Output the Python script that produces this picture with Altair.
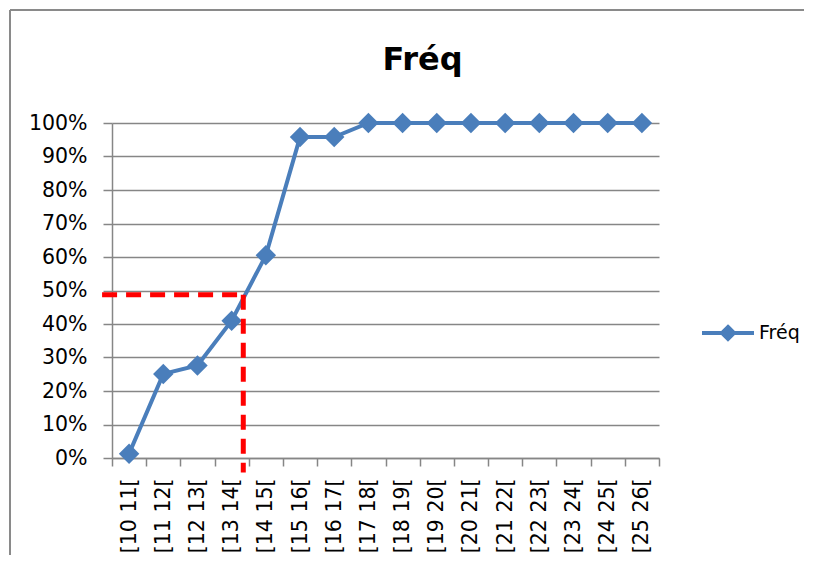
import altair as alt
import pandas as pd

# ---- data ----
classes = ["[10 11[", "[11 12[", "[12 13[", "[13 14[", "[14 15[", "[15 16[",
           "[16 17[", "[17 18[", "[18 19[", "[19 20[", "[20 21[", "[21 22[",
           "[22 23[", "[23 24[", "[24 25[", "[25 26["]
freq = [0.013, 0.251, 0.276, 0.41, 0.605, 0.958, 0.958, 1.0, 1.0, 1.0,
        1.0, 1.0, 1.0, 1.0, 1.0, 1.0]
series_name = "Fréq"
y_ticks = [0.0, 0.1, 0.2, 0.3, 0.4, 0.5, 0.6, 0.7, 0.8, 0.9, 1.0]

# median reading (in class units, classes span [10, 26])
class_range = [10, 26]
median_x = [13.84]
median_y = [0.487]
guide_x_start = [9.71]
guide_y_end = [-0.043]

df = pd.DataFrame({"classe": classes, "freq": freq,
                   "serie": [series_name] * len(classes)})
hdf = pd.DataFrame({"x": guide_x_start, "x2": median_x, "y": median_y})
vdf = pd.DataFrame({"x": median_x, "y": median_y, "y2": guide_y_end})

BLUE = "#4A7EBB"
RED = "#FF0000"
GRID = "#868686"
FONT = "DejaVu Sans"
LEGEND_PATH = "M-1,0L1,0M0,-0.23L0.23,0L0,0.23L-0.23,0Z"

yscale = alt.Scale(domain=[0, 1], nice=False)
yaxis = alt.Axis(title=None, values=y_ticks, format=".0%", tickSize=9,
                 labelPadding=16, grid=True, labelOverlap=False)
xscale = alt.Scale(type="band", paddingInner=0, paddingOuter=0)
xaxis = alt.Axis(title=None, labelAngle=-90, tickBand="extent",
                 labelOverlap=False, tickSize=8, labelPadding=12, grid=False)

color = alt.Color("serie:N", scale=alt.Scale(range=[BLUE]),
                  legend=alt.Legend(title=None, orient="none", legendX=588,
                                    legendY=182, symbolType=LEGEND_PATH,
                                    symbolSize=2704, symbolStrokeWidth=4,
                                    symbolFillColor=BLUE,
                                    symbolStrokeColor=BLUE,
                                    labelFont=FONT, labelFontSize=19,
                                    labelColor="black", labelOffset=3,
                                    padding=0))

line = alt.Chart(df).mark_line(strokeWidth=4).encode(
    x=alt.X("classe:N", sort=classes, scale=xscale, axis=xaxis),
    y=alt.Y("freq:Q", scale=yscale, axis=yaxis), color=color)
pts = alt.Chart(df).mark_point(shape="diamond", filled=True, size=420,
                               opacity=1).encode(
    x=alt.X("classe:N", sort=classes, scale=xscale, axis=xaxis),
    y=alt.Y("freq:Q", scale=yscale, axis=yaxis), color=color)

qx = alt.Scale(domain=class_range, nice=False, zero=False)
hrule = alt.Chart(hdf).mark_rule(color=RED, strokeWidth=5, strokeDash=[15, 9]).encode(
    x=alt.X("x:Q", scale=qx, axis=None), x2="x2:Q",
    y=alt.Y("y:Q", scale=yscale, axis=yaxis))
vrule = alt.Chart(vdf).mark_rule(color=RED, strokeWidth=5, strokeDash=[15, 9]).encode(
    x=alt.X("x:Q", scale=qx, axis=None),
    y=alt.Y("y:Q", scale=yscale, axis=yaxis), y2="y2:Q")

frame_top = alt.Chart(hdf).mark_rule(color="#8A8A8A", strokeWidth=2).encode(
    x=alt.value(-102), x2=alt.value(720), y=alt.value(-113))
frame_left = alt.Chart(hdf).mark_rule(color="#8A8A8A", strokeWidth=2).encode(
    x=alt.value(-102), y=alt.value(-113), y2=alt.value(450))

chart = alt.layer(
    alt.layer(line, pts),
    alt.layer(hrule, vrule, frame_top, frame_left),
).resolve_scale(x="independent").properties(
    width=547, height=335,
    autosize=alt.AutoSizeParams(type="none"),
    padding={"left": 104, "top": 115, "right": 145, "bottom": 97},
    title=alt.Title("Fréq", font=FONT, fontSize=32, fontWeight="bold",
                    color="black", anchor="middle", dx=37, offset=0,
                    baseline="alphabetic", dy=93),
).configure_view(stroke=None).configure_axis(
    domainColor=GRID, tickColor=GRID, gridColor=GRID, domainWidth=1.5,
    tickWidth=1.5, gridWidth=1.3, labelFont=FONT, labelFontSize=20.5,
    labelColor="black"
)

chart.save("out.html", embed_options={"renderer": "svg", "actions": False})
